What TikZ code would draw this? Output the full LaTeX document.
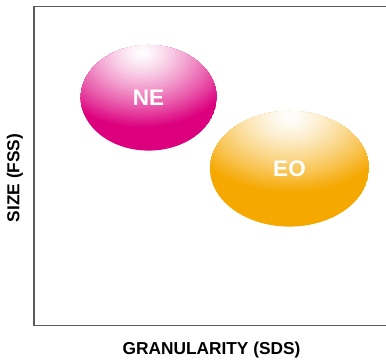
\documentclass[tikz,border=0pt]{standalone}
\usepackage{fontspec}
\setmainfont{Liberation Sans}
\definecolor{nemag}{HTML}{DC007E}
\definecolor{eoorg}{HTML}{F5A800}
\definecolor{axisgray}{HTML}{5A5A5A}
\begin{document}
\begin{tikzpicture}[x=1pt,y=-1pt,
  axisline/.style={draw=axisgray,line width=1.5pt},
  bubbletext/.style={text=white,font=\bfseries\fontsize{22.5}{24}\selectfont,inner sep=0pt},
  axislabel/.style={text=black,font=\bfseries\fontsize{17.3}{19}\selectfont,inner sep=0pt}]
\useasboundingbox (0,0) rectangle (386,363);
% axes
\coordinate (tr) at (386,6.3);
\coordinate (tl) at (34,6.3);
\coordinate (bl) at (34,325.3);
\coordinate (br) at (386,325.3);
\draw[axisline,line cap=rect] (tr) -- (tl) -- (bl) -- (br);
% NE bubble
\coordinate (nec) at (148.7,97.8);
\coordinate (neh) at (142,53);
\begin{scope}
  \clip (nec) ellipse [x radius=68, y radius=52.8];
  \fill[nemag] (nec) ellipse [x radius=68, y radius=52.8];
  \foreach \i in {60,59,...,1}{
    \pgfmathsetmacro\s{\i/60}
    \pgfmathtruncatemacro\p{100*\s^1.3}
    \fill[nemag!\p!white] (neh) ellipse [x radius=\s*100, y radius=\s*75];
  }
\end{scope}
\node[bubbletext] (ne) at (148.5,97.5) {NE};
% EO bubble
\coordinate (eoc) at (289.5,168.8);
\coordinate (eoh) at (290,117);
\begin{scope}
  \clip (eoc) ellipse [x radius=79.5, y radius=57.8];
  \fill[eoorg] (eoc) ellipse [x radius=79.5, y radius=57.8];
  \foreach \i in {60,59,...,1}{
    \pgfmathsetmacro\s{\i/60}
    \pgfmathtruncatemacro\p{100*\s^1.3}
    \fill[eoorg!\p!white] (eoh) ellipse [x radius=\s*110, y radius=\s*76];
  }
\end{scope}
\node[bubbletext] (eo) at (289.5,168.5) {EO};
% axis labels
\node[axislabel,rotate=90] (ylab) at (15,178) {SIZE (FSS)};
\node[axislabel] (xlab) at (211.5,350) {GRANULARITY (SDS)};
\end{tikzpicture}
\end{document}
